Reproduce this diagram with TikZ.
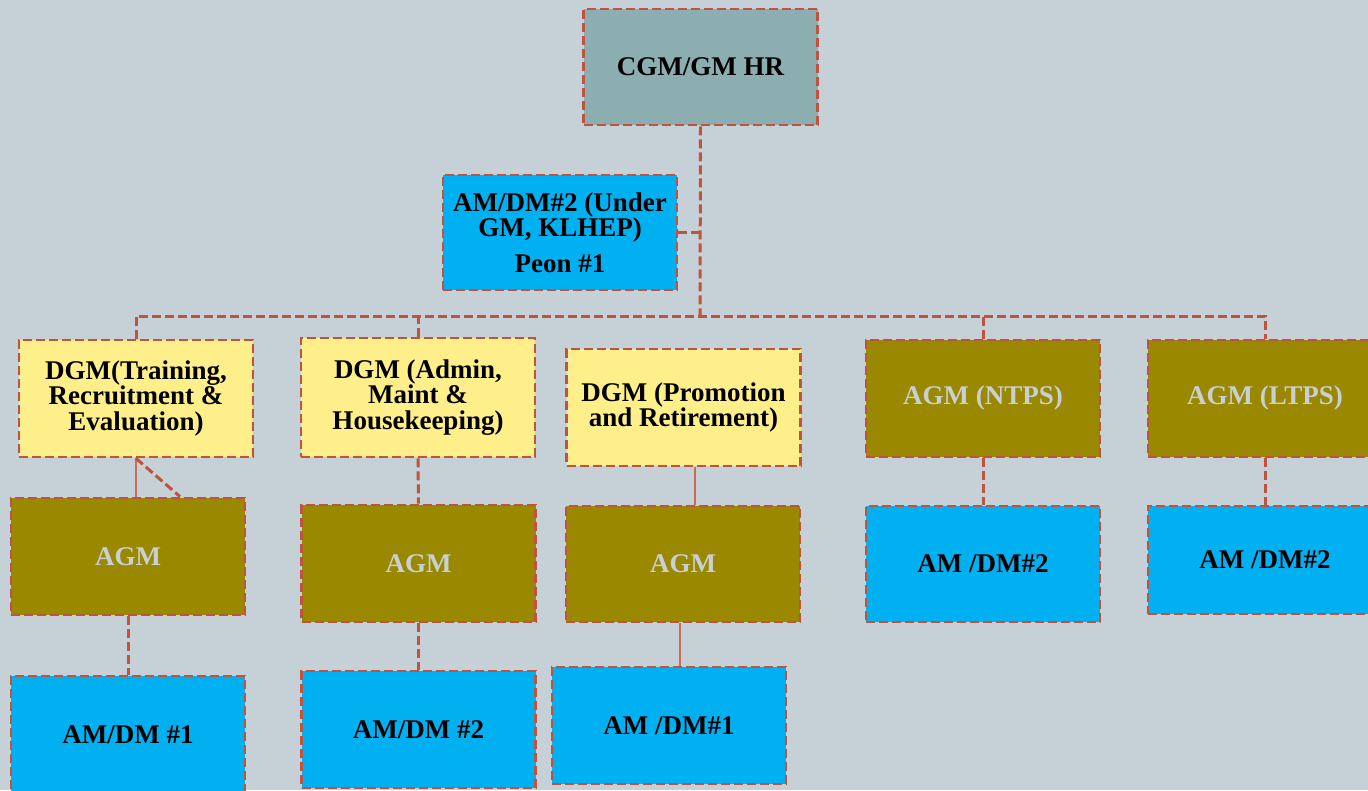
\documentclass[tikz,border=0pt]{standalone}
\usepackage{fontspec}
\setmainfont{Liberation Serif}
\usepackage{tikz}
\usetikzlibrary{positioning}

\definecolor{bgc}{RGB}{198,209,215}
\definecolor{edgec}{RGB}{190,84,64}
\definecolor{thinc}{RGB}{205,105,85}
\definecolor{topc}{RGB}{141,174,176}
\definecolor{bluec}{RGB}{0,176,240}
\definecolor{yelc}{RGB}{255,239,138}
\definecolor{olivec}{RGB}{153,136,0}
\definecolor{paletext}{RGB}{200,208,212}

\begin{document}
\begin{tikzpicture}[x=1pt,y=-1pt,
    every node/.style={rectangle,draw=edgec,line width=2.8pt,dash pattern=on 9pt off 4pt,
        minimum width=234pt,minimum height=117pt,inner sep=2pt,align=center,
        font=\bfseries\fontsize{27}{25.5}\selectfont},
    topbox/.style={fill=topc},
    bluebox/.style={fill=bluec},
    yelbox/.style={fill=yelc},
    olivebox/.style={fill=olivec,text=paletext},
    link/.style={draw=edgec,line width=3pt,dash pattern=on 9pt off 4pt},
    plain/.style={draw=thinc,line width=2pt}]
    \fill[bgc] (0,0) rectangle (1368,790);
    \clip (0,0) rectangle (1368,790);

    \node[topbox,minimum height=116pt] (cgm) at (700.5,67) {CGM/GM HR};
    \node[bluebox,minimum height=115pt,font=\bfseries\fontsize{27}{23}\selectfont] (klhep) at (560,232.5)
        {AM/DM\#2 (Under\\GM, KLHEP)\\[11pt]Peon \#1};

    \node[yelbox] (dgmA) at (136,398.5) {DGM(Training,\\Recruitment \&\\Evaluation)};
    \node[yelbox,minimum height=119pt] (dgmB) at (418,397.5) {DGM (Admin,\\Maint \&\\Housekeeping)};
    \node[yelbox] (dgmC) at (683.5,407.5) {DGM (Promotion\\and Retirement)};
    \node[olivebox] (ntps) at (983,398.5) {AGM (NTPS)};
    \node[olivebox] (ltps) at (1265,398.5) {AGM (LTPS)};

    \node[olivebox] (agmA) at (128,556.5) {AGM};
    \node[olivebox] (agmB) at (418.5,563.5) {AGM};
    \node[olivebox,minimum height=116pt] (agmC) at (683,564) {AGM};
    \node[bluebox,minimum height=116pt] (amNtps) at (983,564) {AM /DM\#2};
    \node[bluebox,minimum height=108pt] (amLtps) at (1265,560) {AM /DM\#2};

    \node[bluebox] (amA) at (128,734.5) {AM/DM \#1};
    \node[bluebox] (amB) at (418.5,729.5) {AM/DM \#2};
    \node[bluebox] (amC) at (669,725.5) {AM /DM\#1};

    \coordinate (bus) at (700,316);
    \draw[link] (cgm.south) -- (bus);
    \draw[link] (klhep.east) -- (klhep.east -| bus);
    \draw[link] (dgmA.north) |- (bus) -| (ltps.north);
    \draw[link] (dgmB.north) -- (dgmB.north |- bus);
    \draw[link] (ntps.north) -- (ntps.north |- bus);

    \draw[plain] (dgmA.south) -- (dgmA.south |- agmA.north);
    \draw[link] (dgmA.south) -- ([xshift=52pt]agmA.north);
    \draw[link] (dgmB.south) -- (agmB.north);
    \draw[plain] ([xshift=11.5pt]dgmC.south) -- ([xshift=12pt]agmC.north);
    \draw[link] (ntps.south) -- (amNtps.north);
    \draw[link] (ltps.south) -- (amLtps.north);

    \draw[link] (agmA.south) -- (amA.north);
    \draw[link] (agmB.south) -- (amB.north);
    \draw[plain] ([xshift=-3pt]agmC.south) -- ([xshift=11pt]amC.north);
\end{tikzpicture}
\end{document}
